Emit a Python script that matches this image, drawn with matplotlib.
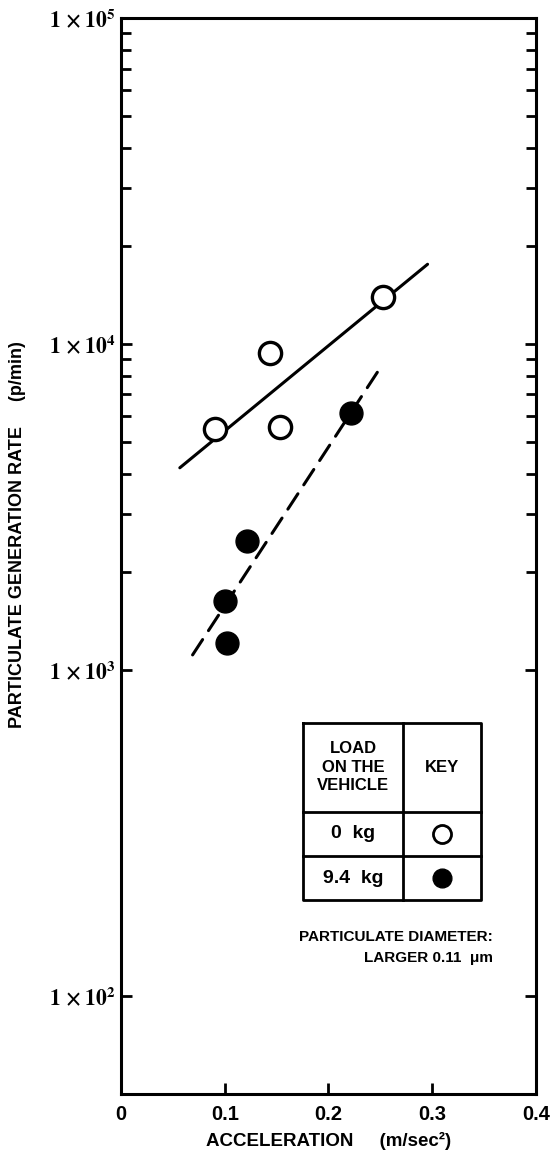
import matplotlib
matplotlib.use("Agg")
import matplotlib.pyplot as plt
from matplotlib.ticker import FixedLocator, FixedFormatter, NullFormatter

# -------------------------------------------------
# Data
# -------------------------------------------------
open_acc = [0.091, 0.1435, 0.153, 0.253]          # 0 kg load
open_rate = [5480, 9400, 5560, 13970]

filled_acc = [0.1003, 0.102, 0.121, 0.222]        # 9.4 kg load
filled_rate = [1630, 1213, 2490, 6130]

fit_open_acc = [0.0567, 0.2955]
fit_open_rate = [4170, 17560]

fit_filled_acc = [0.069, 0.25]
fit_filled_rate = [1112, 8460]

x_ticks = [0, 0.1, 0.2, 0.3, 0.4]
x_tick_labels = ["0", "0.1", "0.2", "0.3", "0.4"]
y_ticks = [1e2, 1e3, 1e4, 1e5]
y_tick_labels = [r"$1\,\times10^{2}$", r"$1\,\times10^{3}$",
                 r"$1\,\times10^{4}$", r"$1\,\times10^{5}$"]
y_minor = [m * 10 ** e for e in (3, 4) for m in range(2, 10)]

legend_rows = ["0  kg", "9.4  kg"]

# -------------------------------------------------
# Fonts
# -------------------------------------------------
plt.rcParams["font.family"] = ["Liberation Sans", "DejaVu Sans"]
plt.rcParams["font.weight"] = "bold"
plt.rcParams["mathtext.fontset"] = "stix"

fig = plt.figure(figsize=(5.5, 11.62), dpi=100)
ax = fig.add_axes([0.22, 0.0585, 0.7545, 0.926])

# -------------------------------------------------
# Fits and data
# -------------------------------------------------
ax.plot(fit_open_acc, fit_open_rate, color="black", lw=2.2,
        solid_capstyle="round", zorder=2)
ax.plot(fit_filled_acc, fit_filled_rate, color="black", lw=2.2,
        dashes=(6, 3.5), dash_capstyle="round", zorder=2)

ax.plot(open_acc, open_rate, "o", ms=16, mfc="white", mec="black",
        mew=2.4, ls="none", zorder=3)
ax.plot(filled_acc, filled_rate, "o", ms=16.5, mfc="black", mec="black",
        ls="none", zorder=3)

# -------------------------------------------------
# Axes
# -------------------------------------------------
ax.set_yscale("log")
ax.set_xlim(0, 0.4)
ax.set_ylim(50, 1e5)

ax.xaxis.set_major_locator(FixedLocator(x_ticks))
ax.xaxis.set_major_formatter(FixedFormatter(x_tick_labels))
ax.yaxis.set_major_locator(FixedLocator(y_ticks))
ax.yaxis.set_major_formatter(FixedFormatter(y_tick_labels))
ax.yaxis.set_minor_locator(FixedLocator(y_minor))
ax.yaxis.set_minor_formatter(NullFormatter())

for s in ax.spines.values():
    s.set_linewidth(2.2)

ax.tick_params(axis="y", which="major", direction="in", length=8, width=2,
               left=True, right=True, labelsize=15.5, pad=4)
ax.tick_params(axis="y", which="minor", direction="in", length=7, width=2,
               left=True, right=True)
ax.tick_params(axis="x", which="major", direction="in", length=8, width=2,
               top=False, labelsize=14.5, pad=8)

ax.set_xlabel("ACCELERATION     (m/sec²)", fontsize=13.5, fontweight="bold")
ax.xaxis.set_label_coords(0.5, -0.035)
ax.set_ylabel("PARTICULATE GENERATION RATE     (p/min)", fontsize=13,
              fontweight="bold")
ax.yaxis.set_label_coords(-0.228, 0.52)

# -------------------------------------------------
# Key table
# -------------------------------------------------
L, M, R = 0.4386, 0.6795, 0.8675
T, R1, R2, B = 0.3448, 0.2624, 0.2212, 0.1803
tr = ax.transAxes
lk = dict(color="black", lw=2.0, transform=tr, clip_on=False)
ax.plot([L, R, R, L, L], [T, T, B, B, T], **lk)
ax.plot([M, M], [T, B], **lk)
ax.plot([L, R], [R1, R1], **lk)
ax.plot([L, R], [R2, R2], **lk)

cx1, cx2 = (L + M) / 2, (M + R) / 2
ax.text(cx1, (T + R1) / 2, "LOAD\nON THE\nVEHICLE", transform=tr,
        ha="center", va="center", fontsize=12, linespacing=1.3)
ax.text(cx2, (T + R1) / 2, "KEY", transform=tr, ha="center", va="center",
        fontsize=12)
ax.text(cx1, (R1 + R2) / 2, legend_rows[0], transform=tr, ha="center",
        va="center", fontsize=14)
ax.text(cx1, (R2 + B) / 2, legend_rows[1], transform=tr, ha="center",
        va="center", fontsize=14)
ax.plot([cx2], [(R1 + R2) / 2], "o", ms=13, mfc="white", mec="black",
        mew=2.0, transform=tr, clip_on=False)
ax.plot([cx2], [(R2 + B) / 2], "o", ms=13.5, mfc="black", mec="black",
        transform=tr, clip_on=False)

ax.text(0.896, 0.1459, "PARTICULATE DIAMETER:", transform=tr, ha="right",
        va="center", fontsize=11)
ax.text(0.896, 0.1264, "LARGER 0.11  μm", transform=tr, ha="right",
        va="center", fontsize=11)

fig.savefig("out.png", dpi=100)
